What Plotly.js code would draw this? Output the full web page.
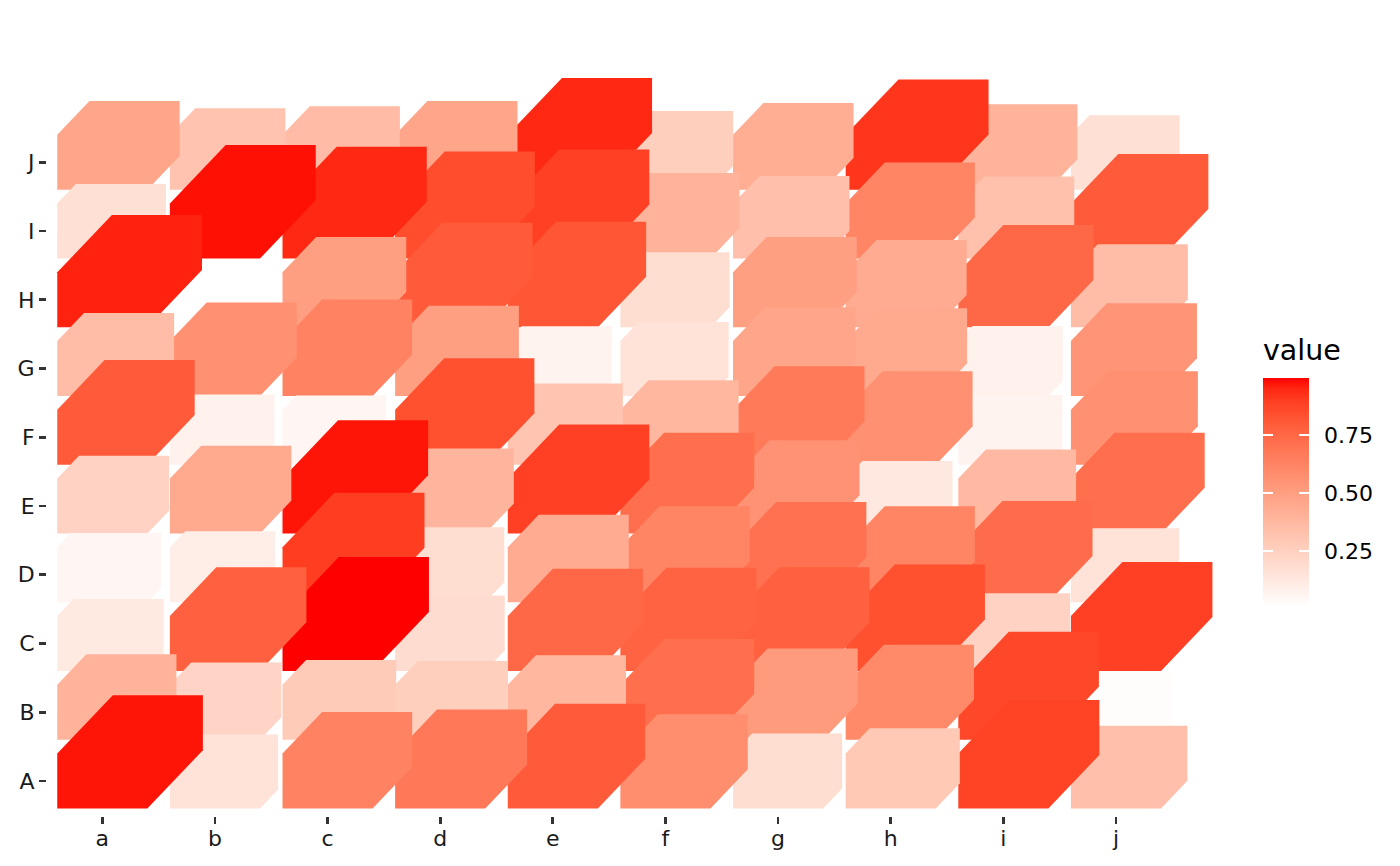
<!DOCTYPE html>
<html>
<head>
<meta charset="utf-8">
<script src="https://cdn.plot.ly/plotly-3.0.1.min.js"></script>
<style>html,body{margin:0;padding:0;background:#fff;}#chart{width:1400px;height:866px;}</style>
</head>
<body>
<div id="chart"></div>
<script>
// ---- data ----
const xLabels = ['a','b','c','d','e','f','g','h','i','j'];
const yLabels = ['A','B','C','D','E','F','G','H','I','J'];
const rowA = [0.98, 0.16, 0.63, 0.68, 0.80, 0.58, 0.18, 0.29, 0.88, 0.34];
const rowB = [0.40, 0.23, 0.28, 0.26, 0.38, 0.72, 0.52, 0.60, 0.87, 0.02];
const rowC = [0.12, 0.78, 0.997, 0.19, 0.75, 0.77, 0.78, 0.84, 0.24, 0.89];
const rowD = [0.06, 0.10, 0.90, 0.18, 0.44, 0.62, 0.71, 0.62, 0.73, 0.16];
const rowE = [0.24, 0.45, 0.98, 0.39, 0.89, 0.72, 0.56, 0.13, 0.37, 0.72];
const rowF = [0.80, 0.08, 0.06, 0.84, 0.31, 0.38, 0.67, 0.57, 0.07, 0.57];
const rowG = [0.35, 0.57, 0.63, 0.50, 0.07, 0.16, 0.47, 0.45, 0.08, 0.55];
const rowH = [0.96, 0.010, 0.50, 0.80, 0.82, 0.18, 0.50, 0.44, 0.75, 0.35];
const rowI = [0.17, 0.985, 0.95, 0.85, 0.89, 0.40, 0.34, 0.62, 0.33, 0.80];
const rowJ = [0.47, 0.32, 0.36, 0.47, 0.95, 0.26, 0.43, 0.92, 0.40, 0.17];
const legendTicks = [0.25, 0.5, 0.75];
const legendTickText = ['0.25', '0.50', '0.75'];

// ---- colour scale: white -> red, interpolated in CIELAB ----
function toLin(c){c/=255;return c<=0.04045?c/12.92:Math.pow((c+0.055)/1.055,2.4);}
function toS(c){c=c<=0.0031308?12.92*c:1.055*Math.pow(c,1/2.4)-0.055;return Math.round(Math.max(0,Math.min(1,c))*255);}
const Xn=0.95047,Yn=1,Zn=1.08883,d6=6/29;
function f(t){return t>d6*d6*d6?Math.cbrt(t):t/(3*d6*d6)+4/29;}
function fi(t){return t>d6?t*t*t:3*d6*d6*(t-4/29);}
function rgb2lab(r,g,b){
  const R=toLin(r),G=toLin(g),B=toLin(b);
  const X=0.4124564*R+0.3575761*G+0.1804375*B;
  const Y=0.2126729*R+0.7151522*G+0.0721750*B;
  const Z=0.0193339*R+0.1191920*G+0.9503041*B;
  const fx=f(X/Xn),fy=f(Y/Yn),fz=f(Z/Zn);
  return [116*fy-16,500*(fx-fy),200*(fy-fz)];
}
function lab2rgb(L,a,b){
  const fy=(L+16)/116,fx=fy+a/500,fz=fy-b/200;
  const X=Xn*fi(fx),Y=Yn*fi(fy),Z=Zn*fi(fz);
  const R=3.2404542*X-1.5371385*Y-0.4985314*Z;
  const G=-0.9692660*X+1.8760108*Y+0.0415560*Z;
  const B=0.0556434*X-0.2040259*Y+1.0572252*Z;
  return 'rgb('+toS(R)+','+toS(G)+','+toS(B)+')';
}
const labLow=rgb2lab(255,255,255), labHigh=rgb2lab(255,0,0);
function colAt(t){
  return lab2rgb(labLow[0]+(labHigh[0]-labLow[0])*t,labLow[1]+(labHigh[1]-labLow[1])*t,labLow[2]+(labHigh[2]-labLow[2])*t);
}

// ---- layout geometry ----
const W=1400,H=866;
const M={l:47,r:160,t:60,b:50};
const xr=[0.50901,11.1012], yr=[0.49083,11.4888];
const plotW=W-M.l-M.r, plotH=H-M.t-M.b;
const pxX=plotW/(xr[1]-xr[0]), pxY=plotH/(yr[1]-yr[0]);

const rows=[rowA,rowB,rowC,rowD,rowE,rowF,rowG,rowH,rowI,rowJ];
const all=[].concat(...rows);
const vmin=Math.min(...all), vmax=Math.max(...all);

const traces=[];
const half=0.4;
for(let r=rows.length-1;r>=0;r--){
  for(let c=xLabels.length-1;c>=0;c--){
    const v=rows[r][c];
    const t=(v-vmin)/(vmax-vmin);
    const col=colAt(t);
    const ex=0.1+0.4*t;
    const ey=ex*pxX*1.05/pxY;
    const cx=c+1, cy=r+1;
    traces.push({
      type:'scatter',mode:'lines',
      x:[cx-half,cx-half,cx-half+ex,cx+half+ex,cx+half+ex,cx+half,cx-half],
      y:[cy-half,cy+half,cy+half+ey,cy+half+ey,cy-half+ey,cy-half,cy-half],
      fill:'toself',fillcolor:col,line:{width:0,color:col},
      hoverinfo:'skip',showlegend:false
    });
  }
}

const cs=[];
for(let i=0;i<=20;i++){cs.push([i/20,colAt(i/20)]);}
const clear=[[0,'rgba(255,255,255,0)'],[1,'rgba(255,255,255,0)']];
const xs=[],ys=[];
rows.forEach((row,r)=>row.forEach((v,c)=>{xs.push(c+1);ys.push(r+1);}));

const barLeft=1263.3, barTop=377.7, barLen=229;
const cbX=(barLeft-M.l)/plotW;
const cbY=(H-M.b-(barTop+barLen/2))/plotH;
const cbBase={thicknessmode:'pixels',len:barLen,lenmode:'pixels',
  x:cbX,xanchor:'left',xpad:0,y:cbY,yanchor:'middle',ypad:0,outlinewidth:0,tickvals:legendTicks};

// main colour bar with labels (transparent outside ticks push labels out)
traces.push({
  type:'scatter',mode:'markers',x:xs,y:ys,hoverinfo:'skip',showlegend:false,
  marker:{color:all,colorscale:cs,cmin:vmin,cmax:vmax,opacity:0,size:1,
    colorbar:Object.assign({},cbBase,{thickness:46,ticks:'outside',ticklen:11,tickcolor:'rgba(0,0,0,0)',
      ticktext:legendTickText,tickfont:{family:'DejaVu Sans',size:22,color:'#000'}})}
});
// white tick marks on the right side of the bar
traces.push({
  type:'scatter',mode:'markers',x:xs,y:ys,hoverinfo:'skip',showlegend:false,
  marker:{color:all,colorscale:clear,cmin:vmin,cmax:vmax,opacity:0,size:1,
    colorbar:Object.assign({},cbBase,{thickness:46,ticks:'inside',ticklen:10,tickwidth:1.2,tickcolor:'white',showticklabels:false})}
});
// white tick marks on the left side of the bar
traces.push({
  type:'scatter',mode:'markers',x:xs,y:ys,hoverinfo:'skip',showlegend:false,
  marker:{color:all,colorscale:clear,cmin:vmin,cmax:vmax,opacity:0,size:1,
    colorbar:Object.assign({},cbBase,{thickness:10,ticks:'inside',ticklen:10,tickwidth:1.2,tickcolor:'white',showticklabels:false})}
});

const axisCommon={showgrid:false,zeroline:false,showline:false,ticks:'outside',ticklen:7,tickwidth:2.7,
  tickcolor:'#333333',tickfont:{family:'DejaVu Sans',size:22,color:'#1a1a1a'},fixedrange:true};

const layout={
  width:W,height:H,margin:Object.assign({autoexpand:false},M),
  paper_bgcolor:'#fff',plot_bgcolor:'#fff',showlegend:false,
  xaxis:Object.assign({range:xr,tickvals:xLabels.map((_,i)=>i+1),ticktext:xLabels,ticklabelstandoff:-4},axisCommon),
  yaxis:Object.assign({range:yr,tickvals:yLabels.map((_,i)=>i+1),ticktext:yLabels},axisCommon),
  annotations:[{text:'value',xref:'paper',yref:'paper',x:(barLeft-2-M.l)/plotW,y:(H-M.b-350)/plotH,
    xanchor:'left',yanchor:'middle',showarrow:false,font:{family:'DejaVu Sans',size:28.5,color:'#000'}}]
};
Plotly.newPlot('chart',traces,layout,{staticPlot:true,displayModeBar:false});
</script>
</body>
</html>
